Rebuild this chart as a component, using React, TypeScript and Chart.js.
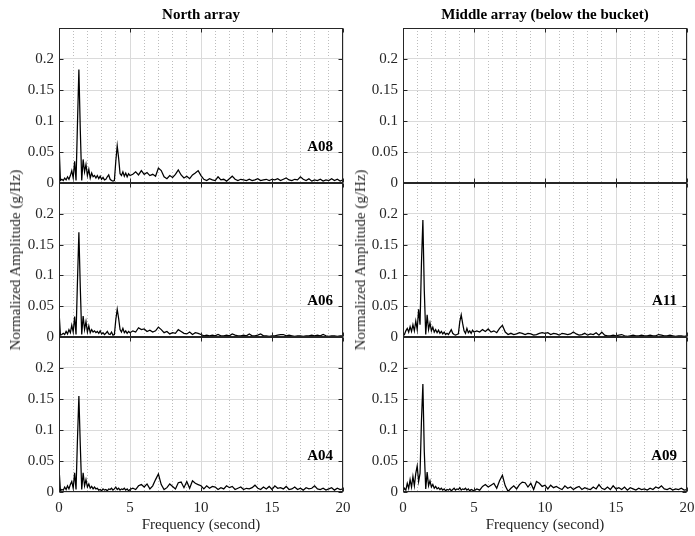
import React, { useEffect, useRef } from 'react';
import { Chart, registerables } from 'chart.js';

Chart.register(...registerables);

// ---------- data ----------
const freq = [
  0, 0.1, 0.2, 0.3, 0.4, 0.5, 0.6, 0.7, 0.8, 0.9,
  1.0, 1.1, 1.2, 1.3, 1.4, 1.5, 1.6, 1.7, 1.8, 1.9,
  2.0, 2.1, 2.2, 2.3, 2.4, 2.5, 2.6, 2.7, 2.8, 2.9,
  3.0, 3.1, 3.2, 3.3, 3.4, 3.5, 3.6, 3.7, 3.8, 3.9,
  4.0, 4.1, 4.2, 4.3, 4.4, 4.5, 4.6, 4.7, 4.8, 4.9,
  5.0,
  5.2, 5.4, 5.6, 5.8, 6.0, 6.2, 6.4, 6.6, 6.8, 7.0,
  7.2, 7.4, 7.6, 7.8, 8.0, 8.2, 8.4, 8.6, 8.8, 9.0,
  9.2, 9.4, 9.6, 9.8, 10.0, 10.2, 10.4, 10.6, 10.8, 11.0,
  11.2, 11.4, 11.6, 11.8, 12.0, 12.2, 12.4, 12.6, 12.8, 13.0,
  13.2, 13.4, 13.6, 13.8, 14.0, 14.2, 14.4, 14.6, 14.8, 15.0,
  15.2, 15.4, 15.6, 15.8, 16.0, 16.2, 16.4, 16.6, 16.8, 17.0,
  17.2, 17.4, 17.6, 17.8, 18.0, 18.2, 18.4, 18.6, 18.8, 19.0,
  19.2, 19.4, 19.6, 19.8, 20.0,
];

const ampA08 = [
  0.064, 0.004, 0.006, 0.004, 0.008, 0.005, 0.010, 0.006, 0.012, 0.020,
  0.008, 0.035, 0.004, 0.095, 0.183, 0.085, 0.004, 0.038, 0.018, 0.030,
  0.012, 0.022, 0.008, 0.016, 0.010, 0.012, 0.008, 0.012, 0.007, 0.011,
  0.006, 0.009, 0.005, 0.006, 0.010, 0.013, 0.006, 0.004, 0.003, 0.004,
  0.035, 0.060, 0.040, 0.015, 0.012, 0.018, 0.011, 0.016, 0.010, 0.015,
  0.012,
  0.014, 0.018, 0.013, 0.020, 0.014, 0.017, 0.012, 0.014, 0.011, 0.024,
  0.020, 0.010, 0.007, 0.012, 0.009, 0.014, 0.021, 0.013, 0.008, 0.011,
  0.007, 0.013, 0.016, 0.020, 0.012, 0.006, 0.004, 0.007, 0.005, 0.004,
  0.010, 0.005, 0.006, 0.003, 0.007, 0.011, 0.006, 0.004, 0.006, 0.005,
  0.004, 0.006, 0.004, 0.005, 0.007, 0.004, 0.005, 0.006, 0.004, 0.006,
  0.005, 0.007, 0.004, 0.006, 0.008, 0.005, 0.004, 0.006, 0.005, 0.010,
  0.006, 0.004, 0.007, 0.003, 0.005, 0.004, 0.006, 0.003, 0.005, 0.004,
  0.007, 0.004, 0.006, 0.003, 0.005,
];

const ampA06 = [
  0.042, 0.003, 0.004, 0.006, 0.004, 0.009, 0.005, 0.012, 0.007, 0.019,
  0.008, 0.033, 0.004, 0.090, 0.170, 0.080, 0.004, 0.034, 0.012, 0.025,
  0.008, 0.018, 0.007, 0.012, 0.008, 0.010, 0.007, 0.009, 0.006, 0.010,
  0.005, 0.007, 0.004, 0.006, 0.009, 0.005, 0.004, 0.008, 0.003, 0.004,
  0.028, 0.045, 0.030, 0.012, 0.008, 0.014, 0.007, 0.010, 0.006, 0.009,
  0.007,
  0.010, 0.008, 0.015, 0.012, 0.013, 0.009, 0.011, 0.008, 0.010, 0.016,
  0.012, 0.007, 0.009, 0.005, 0.007, 0.006, 0.012, 0.009, 0.006, 0.005,
  0.008, 0.004, 0.007, 0.006, 0.004, 0.002, 0.003, 0.002, 0.003, 0.002,
  0.004, 0.002, 0.002, 0.003, 0.002, 0.005, 0.003, 0.002, 0.002, 0.003,
  0.002, 0.005, 0.002, 0.002, 0.003, 0.005, 0.002, 0.002, 0.001, 0.002,
  0.002, 0.003, 0.004, 0.004, 0.002, 0.003, 0.002, 0.001, 0.002, 0.002,
  0.001, 0.002, 0.002, 0.003, 0.002, 0.003, 0.002, 0.004, 0.002, 0.001,
  0.002, 0.002, 0.001, 0.002, 0.002,
];

const ampA04 = [
  0.039, 0.002, 0.004, 0.003, 0.008, 0.004, 0.010, 0.005, 0.012, 0.017,
  0.006, 0.031, 0.004, 0.085, 0.155, 0.075, 0.004, 0.031, 0.010, 0.020,
  0.008, 0.013, 0.006, 0.009, 0.005, 0.008, 0.005, 0.006, 0.003, 0.004,
  0.002, 0.005, 0.003, 0.004, 0.002, 0.005, 0.004, 0.006, 0.003, 0.005,
  0.008, 0.004, 0.006, 0.003, 0.005, 0.004, 0.006, 0.003, 0.005, 0.002,
  0.004,
  0.006, 0.004, 0.010, 0.012, 0.008, 0.013, 0.005, 0.010, 0.020, 0.029,
  0.012, 0.004, 0.007, 0.013, 0.009, 0.005, 0.015, 0.016, 0.007, 0.017,
  0.006, 0.018, 0.014, 0.012, 0.010, 0.005, 0.010, 0.006, 0.009, 0.008,
  0.004, 0.007, 0.005, 0.010, 0.007, 0.009, 0.004, 0.006, 0.008, 0.004,
  0.006, 0.005, 0.007, 0.011, 0.006, 0.004, 0.008, 0.005, 0.009, 0.004,
  0.010, 0.006, 0.007, 0.005, 0.009, 0.004, 0.005, 0.008, 0.004, 0.006,
  0.003, 0.007, 0.005, 0.006, 0.010, 0.005, 0.004, 0.006, 0.003, 0.005,
  0.007, 0.003, 0.006, 0.004, 0.005,
];

const ampA11 = [
  0.002, 0.004, 0.010, 0.014, 0.008, 0.017, 0.009, 0.020, 0.010, 0.026,
  0.012, 0.045, 0.020, 0.120, 0.190, 0.075, 0.004, 0.036, 0.012, 0.023,
  0.010, 0.016, 0.008, 0.012, 0.007, 0.011, 0.006, 0.009, 0.005, 0.008,
  0.004, 0.006, 0.004, 0.008, 0.012, 0.006, 0.004, 0.003, 0.004, 0.005,
  0.025, 0.036, 0.022, 0.010, 0.006, 0.014, 0.007, 0.010, 0.006, 0.011,
  0.008,
  0.010, 0.008, 0.012, 0.009, 0.013, 0.008, 0.010, 0.007, 0.014, 0.019,
  0.008, 0.004, 0.006, 0.004, 0.005, 0.007, 0.006, 0.004, 0.006, 0.005,
  0.003, 0.004, 0.006, 0.007, 0.006, 0.007, 0.004, 0.006, 0.005, 0.003,
  0.006, 0.005, 0.004, 0.005, 0.008, 0.005, 0.003, 0.004, 0.006, 0.003,
  0.005, 0.004, 0.007, 0.003, 0.008, 0.003, 0.002, 0.002, 0.003, 0.002,
  0.003, 0.004, 0.002, 0.001, 0.002, 0.003, 0.002, 0.002, 0.003, 0.002,
  0.002, 0.003, 0.002, 0.002, 0.004, 0.003, 0.002, 0.002, 0.003, 0.002,
  0.001, 0.002, 0.002, 0.001, 0.002,
];

const ampA09 = [
  0.001, 0.006, 0.003, 0.014, 0.006, 0.020, 0.008, 0.025, 0.010, 0.030,
  0.042, 0.017, 0.030, 0.115, 0.174, 0.065, 0.005, 0.032, 0.010, 0.018,
  0.008, 0.012, 0.006, 0.009, 0.005, 0.007, 0.004, 0.006, 0.003, 0.005,
  0.002, 0.004, 0.003, 0.005, 0.002, 0.004, 0.006, 0.003, 0.005, 0.004,
  0.007, 0.003, 0.005, 0.004, 0.006, 0.003, 0.005, 0.002, 0.004, 0.003,
  0.002,
  0.005, 0.003, 0.009, 0.012, 0.008, 0.011, 0.014, 0.006, 0.018, 0.027,
  0.010, 0.001, 0.006, 0.010, 0.005, 0.012, 0.016, 0.015, 0.008, 0.014,
  0.004, 0.017, 0.014, 0.009, 0.011, 0.005, 0.011, 0.007, 0.009, 0.006,
  0.004, 0.010, 0.006, 0.008, 0.004, 0.007, 0.009, 0.004, 0.007, 0.005,
  0.004, 0.008, 0.005, 0.012, 0.006, 0.004, 0.008, 0.004, 0.010, 0.005,
  0.007, 0.004, 0.008, 0.003, 0.007, 0.005, 0.003, 0.006, 0.004, 0.005,
  0.003, 0.006, 0.004, 0.008, 0.006, 0.010, 0.005, 0.004, 0.006, 0.003,
  0.005, 0.004, 0.006, 0.003, 0.004,
];

// the upper middle-array record is flat (no signal)
const freqEmpty = [0, 20];
const ampEmpty = [0, 0];

const xTicks = [0, 5, 10, 15, 20];
const xTickLabels = ['0', '5', '10', '15', '20'];
const yTicks = [0, 0.05, 0.1, 0.15, 0.2];
const yTickLabels = ['0', '0.05', '0.1', '0.15', '0.2'];
const xMin = 0;
const xMax = 20;
const yMax = 0.25;
const labelLevel = 0.0575;

const leftTitle = 'North array';
const rightTitle = 'Middle array (below the bucket)';
const xTitle = 'Frequency (second)';
const yTitle = 'Normalized Amplitude (g/Hz)';

// ---------- styles ----------
const FONT = "'Liberation Serif', 'Times New Roman', Times, serif";
const INK = '#262626';
const GRID = '#dadada';
const MINOR = '#bdbdbd';

type Pad = { left: number; right: number; top: number; bottom: number };
type PanelProps = {
  left: number;
  top: number;
  width: number;
  height: number;
  pad: Pad;
  yAxisWidth: number;
  xAxisHeight: number;
  showX: boolean;
  xs: number[];
  ys: number[];
  label: string;
};

function lookup(values: number[], labels: string[], v: number): string {
  const i = values.findIndex((t) => Math.abs(t - v) < 1e-9);
  return i >= 0 ? labels[i] : '';
}

function zeroPad(s: any) {
  s.paddingLeft = 0;
  s.paddingRight = 0;
  s.paddingTop = 0;
  s.paddingBottom = 0;
}

function Panel(p: PanelProps) {
  const ref = useRef<HTMLCanvasElement>(null);
  useEffect(() => {
    const canvas = ref.current;
    if (!canvas) return;
    const framePlugin = {
      id: 'frame',
      afterDatasetsDraw(chart: any) {
        const { ctx, chartArea: a, scales } = chart;
        ctx.save();
        ctx.strokeStyle = INK;
        ctx.lineWidth = 1;
        const l = Math.round(a.left) + 0.5;
        const r = Math.round(a.right) - 0.5;
        const t = Math.round(a.top) + 0.5;
        const b = Math.round(a.bottom) - 0.5;
        ctx.strokeRect(l, t, r - l, b - t);
        const tl = 4;
        ctx.beginPath();
        xTicks.forEach((v) => {
          const px = Math.round(scales.x.getPixelForValue(v)) + 0.5;
          ctx.moveTo(px, b);
          ctx.lineTo(px, b - tl);
          ctx.moveTo(px, t);
          ctx.lineTo(px, t + tl);
        });
        yTicks.forEach((v) => {
          const py = Math.round(scales.y.getPixelForValue(v)) + 0.5;
          ctx.moveTo(l, py);
          ctx.lineTo(l + tl, py);
          ctx.moveTo(r, py);
          ctx.lineTo(r - tl, py);
        });
        ctx.stroke();
        if (p.label) {
          ctx.font = `bold 15px ${FONT}`;
          ctx.fillStyle = '#000';
          ctx.textAlign = 'right';
          ctx.textBaseline = 'middle';
          ctx.fillText(p.label, a.right - 10, scales.y.getPixelForValue(labelLevel));
        }
        ctx.restore();
      },
    };

    const chart = new Chart(canvas, {
      type: 'line',
      data: {
        datasets: [
          {
            data: p.xs.map((x, i) => ({ x, y: p.ys[i] })),
            xAxisID: 'x',
            yAxisID: 'y',
            borderColor: '#000',
            borderWidth: 1.25,
            pointRadius: 0,
            tension: 0,
            fill: false,
          },
        ],
      },
      options: {
        animation: false,
        responsive: false,
        devicePixelRatio: 1,
        events: [],
        layout: { padding: p.pad },
        plugins: {
          legend: { display: false },
          tooltip: { enabled: false },
          title: { display: false },
        },
        scales: {
          xMinor: {
            type: 'linear',
            position: 'bottom',
            min: xMin,
            max: xMax,
            ticks: { display: false, stepSize: 1 },
            grid: {
              drawTicks: false,
              lineWidth: 1,
              color: (c: any) =>
                c.tick && Math.abs(c.tick.value % 5) < 1e-6 ? 'rgba(0,0,0,0)' : MINOR,
            },
            border: { display: false, dash: [1, 2] },
            afterFit: (s: any) => {
              s.height = 0;
              zeroPad(s);
            },
          },
          x: {
            type: 'linear',
            position: 'bottom',
            min: xMin,
            max: xMax,
            afterBuildTicks: (s: any) => {
              s.ticks = xTicks.map((v) => ({ value: v }));
            },
            ticks: {
              display: p.showX,
              autoSkip: false,
              maxRotation: 0,
              padding: 7,
              color: INK,
              font: { family: FONT, size: 15 },
              callback: (v: any) => lookup(xTicks, xTickLabels, Number(v)),
            },
            grid: { drawTicks: false, color: GRID, lineWidth: 1 },
            border: { display: false },
            afterFit: (s: any) => {
              s.height = p.xAxisHeight;
              zeroPad(s);
            },
          },
          y: {
            type: 'linear',
            position: 'left',
            min: 0,
            max: yMax,
            afterBuildTicks: (s: any) => {
              s.ticks = [...yTicks, yMax].map((v) => ({ value: v }));
            },
            ticks: {
              autoSkip: false,
              padding: 5,
              color: INK,
              font: { family: FONT, size: 15 },
              callback: (v: any) => lookup(yTicks, yTickLabels, Number(v)),
            },
            grid: { drawTicks: false, color: GRID, lineWidth: 1 },
            border: { display: false },
            afterFit: (s: any) => {
              s.width = p.yAxisWidth;
              zeroPad(s);
            },
          },
        },
      } as any,
      plugins: [framePlugin],
    });
    return () => chart.destroy();
  }, []);

  return (
    <canvas
      ref={ref}
      width={p.width}
      height={p.height}
      style={{
        position: 'absolute',
        left: p.left,
        top: p.top,
        width: p.width,
        height: p.height,
        display: 'block',
      }}
    />
  );
}

const textBase: React.CSSProperties = {
  position: 'absolute',
  fontFamily: FONT,
  fontSize: 15,
  lineHeight: '18px',
  color: '#262626',
  whiteSpace: 'nowrap',
  fontWeight: 'normal',
};

export default function App() {
  const colL = { left: 0, width: 353, yAxisWidth: 59, padR: 10 };
  const colR = { left: 345, width: 350, yAxisWidth: 58, padR: 8 };
  const rows = [
    { top: 18, height: 175, padT: 10, padB: 10, xh: 0, showX: false },
    { top: 173, height: 174, padT: 10, padB: 10, xh: 0, showX: false },
    { top: 327, height: 209, padT: 10, padB: 20, xh: 24, showX: true },
  ];
  const leftSeries = [
    { xs: freq, ys: ampA08, label: 'A08' },
    { xs: freq, ys: ampA06, label: 'A06' },
    { xs: freq, ys: ampA04, label: 'A04' },
  ];
  const rightSeries = [
    { xs: freqEmpty, ys: ampEmpty, label: '' },
    { xs: freq, ys: ampA11, label: 'A11' },
    { xs: freq, ys: ampA09, label: 'A09' },
  ];

  const panels: React.ReactNode[] = [];
  [colL, colR].forEach((col, ci) => {
    const series = ci === 0 ? leftSeries : rightSeries;
    rows.forEach((row, ri) => {
      panels.push(
        <Panel
          key={`${ci}-${ri}`}
          left={col.left}
          top={row.top}
          width={col.width}
          height={row.height}
          pad={{ left: 0, right: col.padR, top: row.padT, bottom: row.padB }}
          yAxisWidth={col.yAxisWidth}
          xAxisHeight={row.xh}
          showX={row.showX}
          xs={series[ri].xs}
          ys={series[ri].ys}
          label={series[ri].label}
        />
      );
    });
  });

  return (
    <div
      style={{
        position: 'absolute',
        left: 0,
        top: 0,
        width: 695,
        height: 536,
        background: '#fff',
        overflow: 'hidden',
      }}
    >
      {panels}
      <div style={{ ...textBase, left: 59, width: 284, top: 5, textAlign: 'center', fontWeight: 'bold', color: '#000' }}>
        {leftTitle}
      </div>
      <div style={{ ...textBase, left: 403, width: 284, top: 5, textAlign: 'center', fontWeight: 'bold', color: '#000' }}>
        {rightTitle}
      </div>
      <div style={{ ...textBase, left: 59, width: 284, top: 515, textAlign: 'center' }}>{xTitle}</div>
      <div style={{ ...textBase, left: 403, width: 284, top: 515, textAlign: 'center' }}>{xTitle}</div>
      <div
        style={{
          ...textBase,
          left: 15,
          top: 260,
          transform: 'translate(-50%, -50%) rotate(-90deg)',
        }}
      >
        {yTitle}
      </div>
      <div
        style={{
          ...textBase,
          left: 360,
          top: 260,
          transform: 'translate(-50%, -50%) rotate(-90deg)',
        }}
      >
        {yTitle}
      </div>
    </div>
  );
}
